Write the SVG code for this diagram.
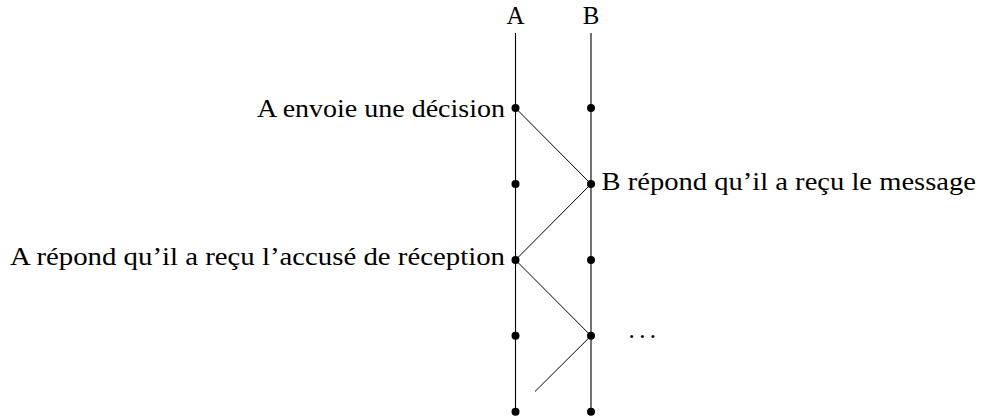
<svg xmlns="http://www.w3.org/2000/svg" width="982" height="417" viewBox="0 0 982 417">
  <style>
    .lane { stroke: #000; stroke-width: 1.1; fill: none; }
    .msg { stroke: #000; stroke-width: 1; fill: none; }
    .dot { fill: #000; }
  </style>
  <rect width="982" height="417" fill="#fff"/>

  <g font-family="Liberation Serif, DejaVu Serif, serif" font-size="25" fill="#000">
    <!-- process timelines -->
    <g id="timeline-A">
      <line class="lane" x1="515.5" y1="33" x2="515.5" y2="411.7"/>
      <text x="515.5" y="24" text-anchor="middle">A</text>
    </g>
    <g id="timeline-B">
      <line class="lane" x1="591" y1="33" x2="591" y2="411.7"/>
      <text x="591" y="24" text-anchor="middle">B</text>
    </g>

    <!-- messages exchanged between A and B -->
    <g id="connectors">
      <line class="msg" x1="515.5" y1="108" x2="591" y2="184"/>
      <line class="msg" x1="591" y1="184" x2="515.5" y2="260"/>
      <line class="msg" x1="515.5" y1="260" x2="591" y2="335.8"/>
      <line class="msg" x1="591" y1="335.8" x2="535" y2="391.5"/>
    </g>

    <!-- events on A -->
    <g id="A1">
      <circle class="dot" cx="515.5" cy="108" r="4"/>
      <text x="505" y="116.5" text-anchor="end" textLength="248" lengthAdjust="spacingAndGlyphs">A envoie une décision</text>
    </g>
    <g id="A2"><circle class="dot" cx="515.5" cy="184" r="4"/></g>
    <g id="A3">
      <circle class="dot" cx="515.5" cy="260" r="4"/>
      <text x="505" y="265" text-anchor="end" textLength="495" lengthAdjust="spacingAndGlyphs">A répond qu’il a reçu l’accusé de réception</text>
    </g>
    <g id="A4"><circle class="dot" cx="515.5" cy="335.8" r="4"/></g>
    <g id="A5"><circle class="dot" cx="515.5" cy="411.7" r="4"/></g>

    <!-- events on B -->
    <g id="B1"><circle class="dot" cx="591" cy="108" r="4"/></g>
    <g id="B2">
      <circle class="dot" cx="591" cy="184" r="4"/>
      <text x="601.5" y="190" textLength="374.5" lengthAdjust="spacingAndGlyphs">B répond qu’il a reçu le message</text>
    </g>
    <g id="B3"><circle class="dot" cx="591" cy="260" r="4"/></g>
    <g id="B4">
      <circle class="dot" cx="591" cy="335.8" r="4"/>
      <text x="628.5" y="337.5" textLength="27.5" lengthAdjust="spacing">. . .</text>
    </g>
    <g id="B5"><circle class="dot" cx="591" cy="411.7" r="4"/></g>
  </g>
</svg>
